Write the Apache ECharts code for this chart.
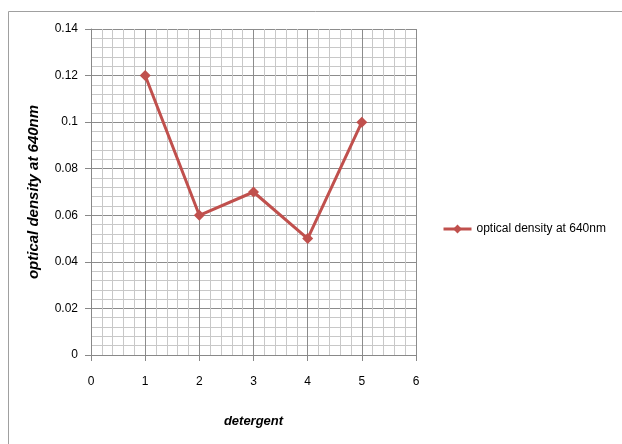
<!DOCTYPE html>
<html>
<head>
<meta charset="utf-8">
<script src="https://cdn.jsdelivr.net/npm/echarts@6/dist/echarts.min.js"></script>
<style>html,body{margin:0;padding:0;background:#fff;}#c{width:622px;height:444px;}</style>
</head>
<body>
<div id="c"></div>
<script>
var xValues = [1, 2, 3, 4, 5];
var yValues = [0.12, 0.06, 0.07, 0.05, 0.10];
var seriesName = 'optical density at 640nm';
var xTitle = 'detergent';
var yTitle = 'optical density at 640nm';

var chart = echarts.init(document.getElementById('c'), null, {renderer: 'canvas'});
var font = '"Liberation Sans", Arial, sans-serif';
chart.setOption({
  animation: false,
  backgroundColor: '#fff',
  graphic: [{
    type: 'rect', left: 6, top: 9, silent: true,
    shape: {x: 0, y: 0, width: 700, height: 500},
    style: {fill: 'none', stroke: '#a0a0a0', lineWidth: 1}
  }],
  grid: {left: 91, top: 29, width: 325, height: 326, containLabel: false},
  legend: {
    left: 442, top: 223, orient: 'vertical', padding: 0,
    itemWidth: 28, itemHeight: 11, itemGap: 4,
    lineStyle: {width: 3},
    textStyle: {fontFamily: font, fontSize: 12, color: '#000'},
    data: [seriesName]
  },
  xAxis: {
    type: 'value', min: 0, max: 6, interval: 1,
    name: xTitle, nameLocation: 'middle', nameGap: 60,
    nameTextStyle: {fontFamily: font, fontSize: 13, fontStyle: 'italic', fontWeight: 'bold', color: '#000'},
    axisLine: {show: true, onZero: false, lineStyle: {color: '#888', width: 1}},
    axisTick: {show: true, length: 6, lineStyle: {color: '#888'}},
    axisLabel: {margin: 21, fontFamily: font, fontSize: 12, color: '#000'},
    splitLine: {show: true, lineStyle: {color: '#8c8c8c', width: 1}},
    minorTick: {show: false, splitNumber: 5},
    minorSplitLine: {show: true, lineStyle: {color: '#c8c8c8', width: 1}}
  },
  yAxis: {
    type: 'value', min: 0, max: 0.14, interval: 0.02,
    name: yTitle, nameLocation: 'middle', nameGap: 50,
    nameTextStyle: {fontFamily: font, fontSize: 15, fontStyle: 'italic', fontWeight: 'bold', color: '#000'},
    axisLine: {show: true, lineStyle: {color: '#888', width: 1}},
    axisTick: {show: true, length: 6, lineStyle: {color: '#888'}},
    axisLabel: {margin: 13, fontFamily: font, fontSize: 12, color: '#000',
      formatter: function (v) { return String(parseFloat(v.toFixed(4))); }},
    splitLine: {show: true, lineStyle: {color: '#8c8c8c', width: 1}},
    minorTick: {show: false, splitNumber: 5},
    minorSplitLine: {show: true, lineStyle: {color: '#c8c8c8', width: 1}}
  },
  series: [{
    name: seriesName,
    type: 'line',
    data: xValues.map(function (x, i) { return [x, yValues[i]]; }),
    symbol: 'diamond', symbolSize: 11,
    lineStyle: {color: '#c0504d', width: 3},
    itemStyle: {color: '#c0504d'}
  }]
});
</script>
</body>
</html>
